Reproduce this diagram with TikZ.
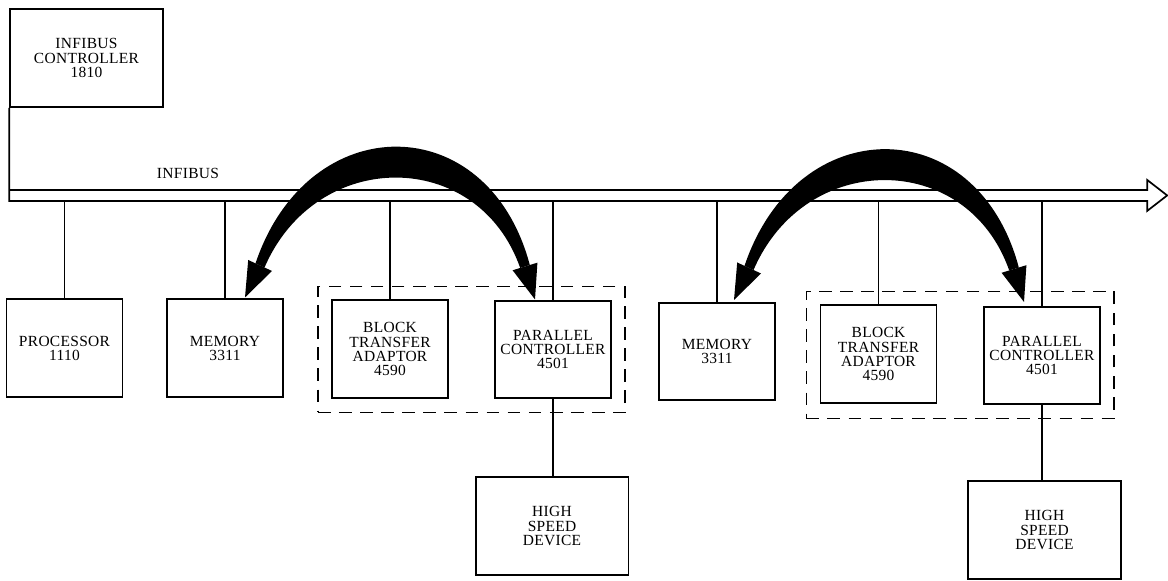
\documentclass[tikz,border=0pt]{standalone}
\usepackage{fontspec}
\setmainfont{Liberation Serif}[LetterSpace=2]
\usetikzlibrary{positioning, calc, fit}

\begin{document}
\begin{tikzpicture}[x=0.025cm, y=-0.025cm,
    unit/.style={draw, line width=1.3pt, align=center, inner sep=0pt,
                 minimum width=2.9cm, minimum height=2.43cm,
                 font=\fontsize{11}{10}\selectfont},
    wideunit/.style={unit, minimum width=3.82cm, minimum height=2.45cm},
    stub/.style={line width=0.8pt},
    bus/.style={line width=1.2pt, line join=miter},
    group/.style={draw, line width=1pt, dash pattern=on 9pt off 6pt, inner sep=0.33cm},
    swing/.pic={
        \fill (10.5,-34.1) .. controls (63,-190) and (243,-190) .. (284.8,-32.5)
              -- (275.2,-29.5) .. controls (233,-150) and (71,-150) .. (19.5,-29.9) -- cycle;
        \fill (0,0) -- (27,-26.5) -- (3.2,-37.5) -- cycle;
        \fill (290,2) -- (292.4,-34.8) -- (267.6,-27.2) -- cycle;
    }
]
    \useasboundingbox (0,0) rectangle (1168,580);

    % bus master
    \node[wideunit] (ctrl) at (86.5,58) {INFIBUS\\CONTROLLER\\1810};

    % units hanging on the bus
    \node[unit] (proc) at (64.5,348) {PROCESSOR\\1110};
    \node[unit] (mem1) at (225,348) {MEMORY\\3311};
    \node[unit] (bta1) at (390,349) {BLOCK\\TRANSFER\\ADAPTOR\\4590};
    \node[unit] (pc1) at (553,349.5) {PARALLEL\\CONTROLLER\\4501};
    \node[unit] (mem2) at (717,351.5) {MEMORY\\3311};
    \node[unit] (bta2) at (878.5,354) {BLOCK\\TRANSFER\\ADAPTOR\\4590};
    \node[unit] (pc2) at (1042,355.5) {PARALLEL\\CONTROLLER\\4501};

    \node[wideunit] (hsd1) at (552,526) {HIGH\\SPEED\\DEVICE};
    \node[wideunit] (hsd2) at (1044.5,530) {HIGH\\SPEED\\DEVICE};

    \node[group, fit=(bta1)(pc1)] (grp1) {};
    \node[group, fit=(bta2)(pc2)] (grp2) {};

    % the bus itself, open arrow at the right
    \draw[bus] (ctrl.south west) -- ++(0,93) coordinate (busSW) -- ++(1138,0) -- ++(0,10)
        -- ++(20,-15.5) -- ++(-20,-15.5) -- ++(0,10) -- ++(-1138,0);
    \node[font=\fontsize{11}{10}\selectfont] (buslabel) at (188,173) {INFIBUS};

    \foreach \n in {proc,mem1,bta1,pc1,mem2,bta2,pc2}
        \draw[stub] (\n.north) -- (\n.north |- busSW);
    \draw[stub] (pc1.south) -- (pc1.south |- hsd1.north);
    \draw[stub] (pc2.south) -- (pc2.south |- hsd2.north);

    % block transfers
    \pic at ($(mem1.north)+(20,-1)$) {swing};
    \pic at ($(mem2.north)+(17,-2)$) {swing};
\end{tikzpicture}
\end{document}
